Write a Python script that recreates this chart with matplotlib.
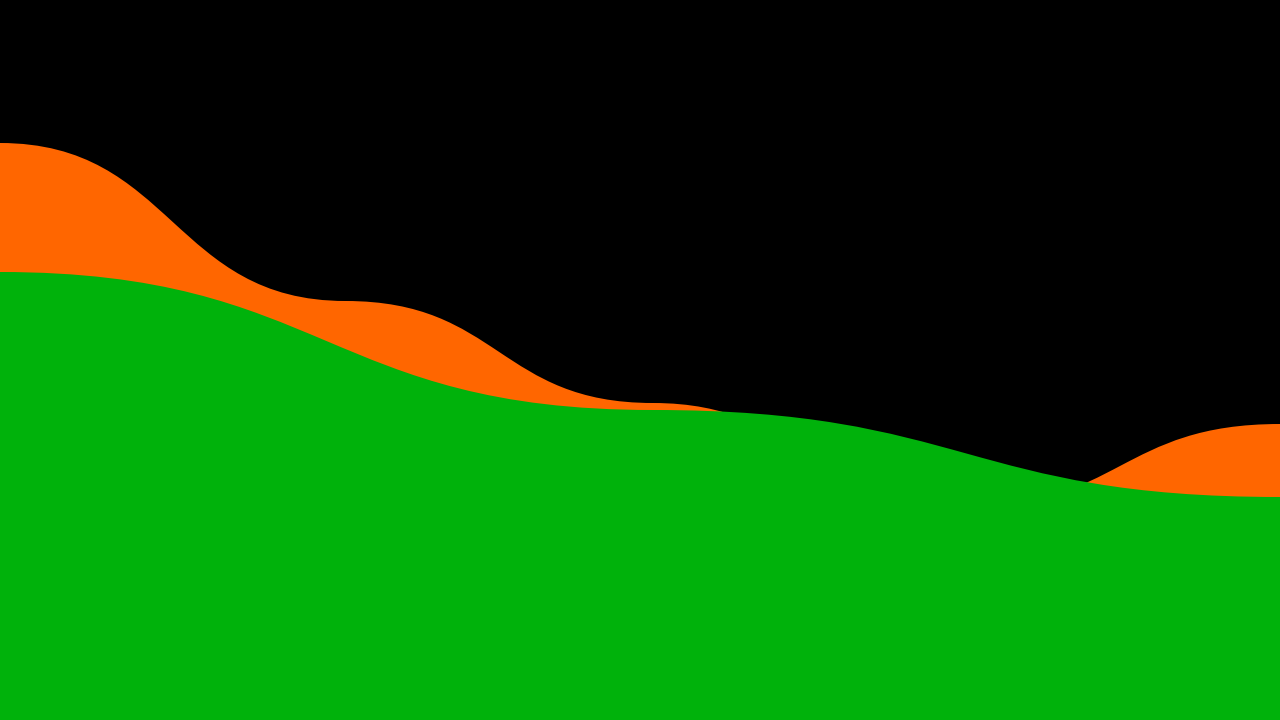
import matplotlib
matplotlib.use("Agg")
import matplotlib.pyplot as plt
from matplotlib.path import Path
from matplotlib.patches import PathPatch

# Data (x on a 0-100 scale, y on a 0-720 scale)
orange_x = [0, 27, 51, 75, 100]
orange_y = [577, 419, 317, 212, 296]
green_x = [0, 51, 100]
green_y = [448, 310, 223]

ORANGE = "#FF6600"
GREEN = "#00B20B"
BG = "#000000"


def bump_area(xs, ys, base=0.0):
    """Area under a bump-X curve (horizontal tangents at each point)."""
    verts = [(xs[0], base), (xs[0], ys[0])]
    codes = [Path.MOVETO, Path.LINETO]
    for i in range(1, len(xs)):
        xm = (xs[i - 1] + xs[i]) / 2.0
        verts += [(xm, ys[i - 1]), (xm, ys[i]), (xs[i], ys[i])]
        codes += [Path.CURVE4, Path.CURVE4, Path.CURVE4]
    verts += [(xs[-1], base), (xs[0], base)]
    codes += [Path.LINETO, Path.CLOSEPOLY]
    return Path(verts, codes)


fig = plt.figure(figsize=(12.8, 7.2), dpi=100, facecolor=BG)
ax = fig.add_axes([0, 0, 1, 1])
ax.set_facecolor(BG)
ax.set_xlim(0, 100)
ax.set_ylim(0, 720)
ax.axis("off")

ax.add_patch(PathPatch(bump_area(orange_x, orange_y), facecolor=ORANGE,
                       edgecolor="none", antialiased=True))
ax.add_patch(PathPatch(bump_area(green_x, green_y), facecolor=GREEN,
                       edgecolor="none", antialiased=True))

fig.savefig("out.png", dpi=100, facecolor=BG)
